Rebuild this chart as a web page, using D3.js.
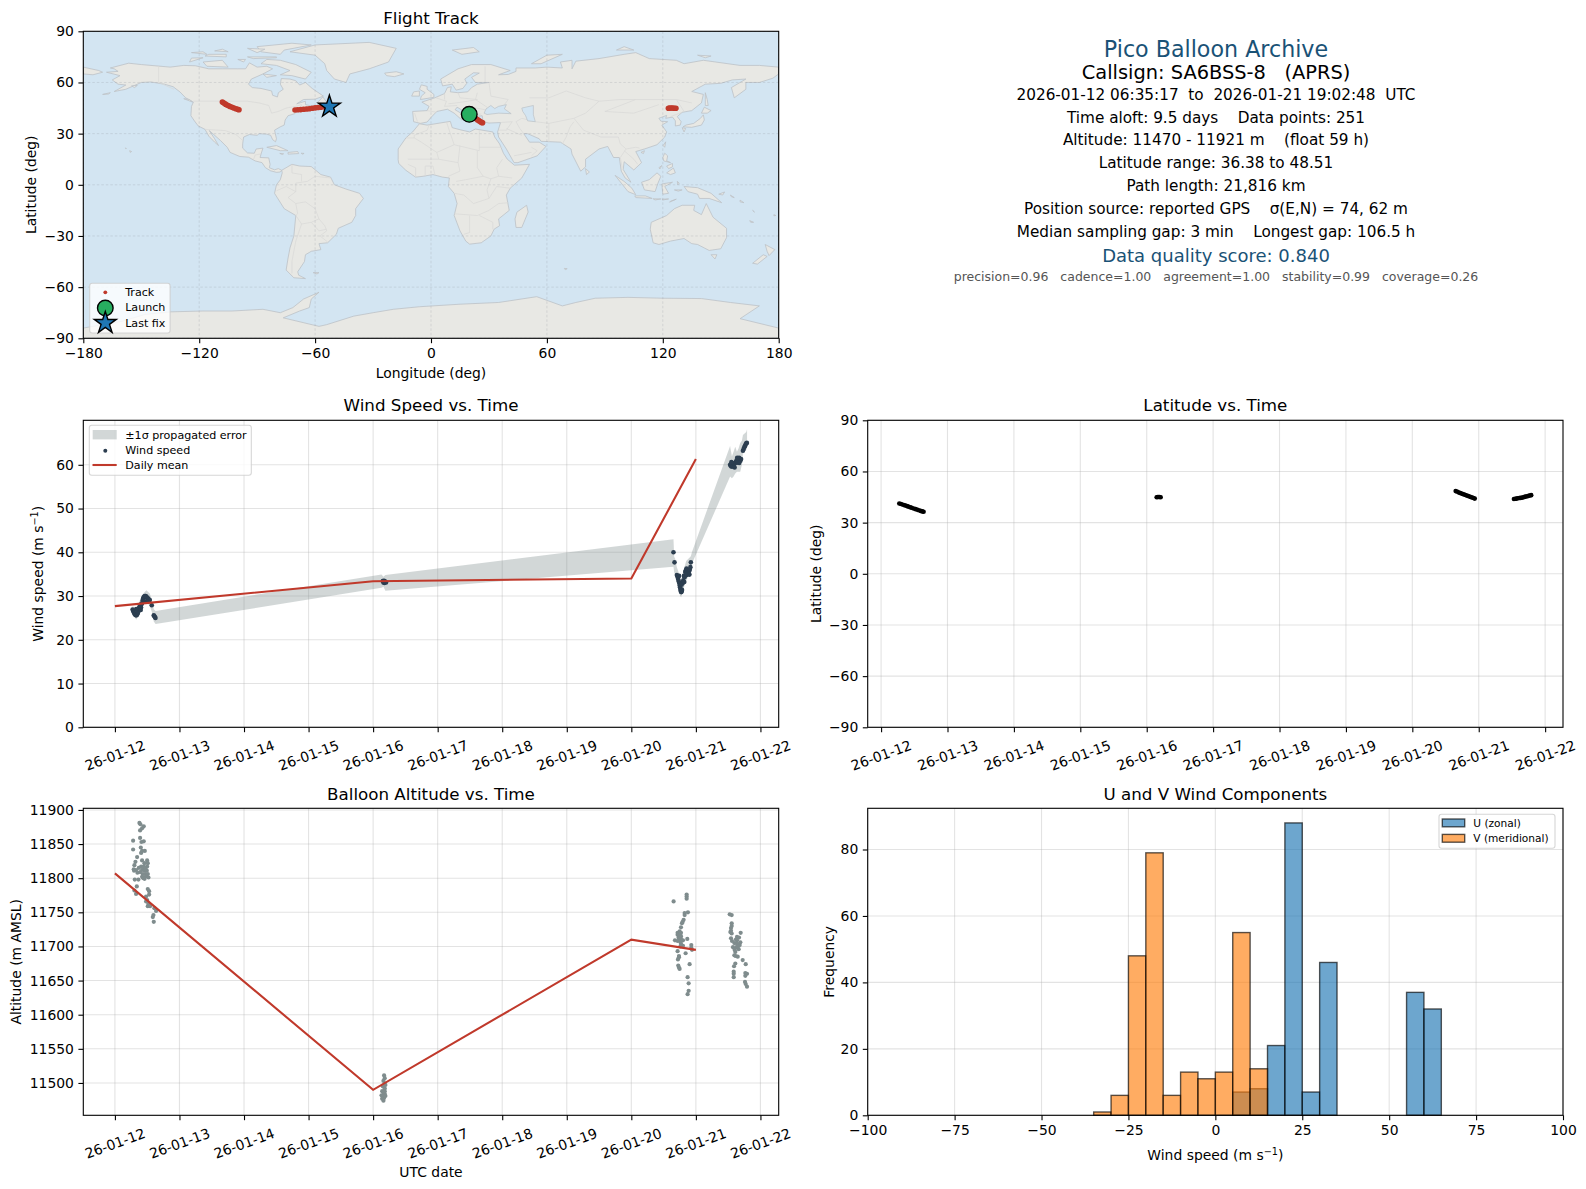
<!DOCTYPE html>
<html>
<head>
<meta charset="utf-8">
<style>
  html, body { margin: 0; padding: 0; background: #fff; }
  text { font-family: "DejaVu Sans", sans-serif; fill: #000; white-space: pre; }
</style>
<script src="https://cdn.jsdelivr.net/npm/d3@7"></script>
</head>
<body>
<div id="chart"></div>
<script>
// ---- header text
const infoLines = [
  ["Pico Balloon Archive", 50.8, 22.2, "#1a5276"],
  ["Callsign: SA6BSS-8   (APRS)", 73.4, 19.4, "#000"],
  ["2026-01-12 06:35:17  to  2026-01-21 19:02:48  UTC", 95, 15.28, "#000"],
  ["Time aloft: 9.5 days    Data points: 251", 118, 15.28, "#000"],
  ["Altitude: 11470 - 11921 m    (float 59 h)", 140.8, 15.28, "#000"],
  ["Latitude range: 36.38 to 48.51", 163.8, 15.28, "#000"],
  ["Path length: 21,816 km", 186.8, 15.28, "#000"],
  ["Position source: reported GPS    σ(E,N) = 74, 62 m", 209.8, 15.28, "#000"],
  ["Median sampling gap: 3 min    Longest gap: 106.5 h", 232.8, 15.28, "#000"],
  ["Data quality score: 0.840", 257.2, 18, "#1a5276"],
  ["precision=0.96   cadence=1.00   agreement=1.00   stability=0.99   coverage=0.26", 277.7, 12.5, "#555"]
];

// ---- time values are days after 2026-01-12 00:00 UTC
const dateTicks = d3.range(0, 11);

const windDaily = [[0, 27.7], [4, 33.4], [8, 34], [9, 61.3]];
const altDaily = [[0, 11807], [4, 11490], [8, 11710], [9, 11695]];

const windPoints = [
  [.274, 26.9], [.285, 26.5], [.295, 26.2], [.305, 25.9], [.315, 25.7], [.325, 25.6], [.335, 25.6], [.345, 25.8],
  [.355, 26.1], [.365, 26.5], [.375, 27.4], [.385, 27.2], [.395, 27.9], [.405, 27.4], [.41, 28.2], [.42, 28.3],
  [.43, 29.0], [.437, 29.4], [.445, 29.7], [.455, 29.9], [.465, 30.0], [.475, 30.0], [.485, 29.9], [.495, 29.7],
  [.505, 29.5], [.515, 29.4], [.525, 29.2], [.54, 29.1], [.571, 27.9], [.602, 25.6], [.61, 25.4], [.62, 25.2], [.628, 25.0],
  [.33, 27.0], [.40, 26.8], [.46, 28.8], [.50, 28.7],
  [4.15, 33.4], [4.16, 33.1], [4.165, 33.5], [4.175, 33.0], [4.18, 33.4], [4.19, 33.2], [4.2, 33.1],
  [8.653, 40.0], [8.669, 37.7], [8.705, 34.8], [8.715, 34.4], [8.725, 33.9], [8.735, 33.4], [8.745, 32.9], [8.75, 32.4],
  [8.755, 32.0], [8.76, 31.6], [8.765, 31.2], [8.77, 31.0], [8.775, 30.9], [8.78, 31.1], [8.785, 31.4], [8.79, 33.0],
  [8.795, 33.0], [8.805, 33.6], [8.815, 34.6], [8.825, 34.3], [8.835, 35.5], [8.845, 35.9], [8.855, 36.3], [8.865, 35.8],
  [8.875, 35.4], [8.885, 35.2], [8.895, 35.7], [8.905, 36.0], [8.915, 36.6], [8.922, 37.7],
  [8.74, 34.6], [8.78, 32.6], [8.86, 34.8], [8.9, 34.9], [8.82, 33.2],
  [9.53, 60.0], [9.54, 59.8], [9.55, 59.6], [9.56, 59.6], [9.57, 59.7], [9.58, 59.9], [9.59, 60.2], [9.6, 60.4],
  [9.61, 60.4], [9.62, 60.7], [9.63, 61.0], [9.64, 60.7], [9.65, 60.5], [9.66, 61.2], [9.67, 61.6], [9.68, 61.3],
  [9.69, 60.9], [9.7, 61.3], [9.729, 63.2], [9.74, 63.6], [9.75, 64.0], [9.76, 64.3], [9.77, 64.6], [9.78, 64.9], [9.79, 65.0],
  [9.55, 60.6], [9.6, 59.4], [9.64, 61.6], [9.67, 60.4]
];

// [day, low, high] of the propagated error band
const windBand = [
  [.274, 26.0, 27.8], [.33, 24.6, 26.8], [.385, 26.0, 29.0], [.437, 28.0, 30.5], [.488, 28.6, 31.3], [.54, 27.8, 30.6],
  [.571, 26.4, 29.2], [.602, 24.2, 27.0], [.63, 23.6, 26.6],
  [4.13, 31.9, 34.9], [4.16, 32.1, 34.4], [4.19, 31.2, 34.8],
  [8.653, 36.7, 43.0], [8.664, 35.4, 39.0], [8.679, 34.8, 38.5], [8.705, 33.0, 36.6], [8.731, 31.5, 35.5], [8.757, 30.0, 34.0],
  [8.772, 29.7, 32.8], [8.793, 31.0, 35.0], [8.85, 33.5, 38.0], [8.922, 35.8, 39.1], [8.938, 37.4, 40.0],
  [9.53, 57.3, 64.3], [9.558, 56.9, 61.9], [9.584, 57.3, 63.0], [9.61, 58.0, 64.1], [9.636, 58.4, 63.0], [9.662, 58.4, 63.8],
  [9.687, 58.4, 65.0], [9.713, 60.0, 65.5], [9.729, 62.5, 66.8], [9.78, 63.4, 67.5], [9.793, 64.0, 68.1]
];

const altPoints = [
  [.380, 11881], [.395, 11879], [.447, 11876], [.421, 11873], [.390, 11870], [.282, 11855], [.390, 11859], [.411, 11853],
  [.447, 11854], [.282, 11842], [.401, 11845], [.421, 11840], [.463, 11840], [.406, 11837], [.344, 11831], [.421, 11826],
  [.318, 11824], [.302, 11819], [.499, 11826], [.457, 11822], [.509, 11822], [.292, 11813], [.328, 11812], [.406, 11817],
  [.447, 11817], [.499, 11817], [.297, 11811], [.349, 11808], [.421, 11812], [.457, 11811], [.494, 11811], [.432, 11806],
  [.473, 11806], [.421, 11802], [.483, 11803], [.520, 11801], [.308, 11798], [.364, 11798], [.339, 11788], [.509, 11784],
  [.530, 11781], [.302, 11782], [.328, 11777], [.483, 11773], [.483, 11766], [.509, 11759], [.545, 11759], [.612, 11756],
  [.638, 11752], [.587, 11743], [.602, 11736], [.597, 11746], [.37, 11815], [.44, 11815], [.47, 11814], [.39, 11809],
  [.44, 11800], [.46, 11799], [.51, 11806], [.53, 11776], [.50, 11768], [.52, 11763],
  [4.17, 11511], [4.18, 11507], [4.16, 11503], [4.18, 11499], [4.15, 11495], [4.18, 11492], [4.14, 11488], [4.16, 11486],
  [4.18, 11484], [4.13, 11482], [4.15, 11480], [4.17, 11478], [4.14, 11477], [4.16, 11474], [4.18, 11488], [4.19, 11481], [4.19, 11497],
  [8.655, 11766], [8.857, 11776], [8.857, 11773], [8.857, 11770], [8.877, 11750], [8.826, 11749], [8.826, 11746], [8.810, 11739],
  [8.795, 11736], [8.784, 11734], [8.769, 11728], [8.748, 11722], [8.717, 11720], [8.769, 11720], [8.717, 11717], [8.769, 11715],
  [8.733, 11713], [8.769, 11711], [8.676, 11709], [8.717, 11708], [8.758, 11707], [8.800, 11709], [8.867, 11711], [8.769, 11704],
  [8.800, 11701], [8.929, 11702], [8.929, 11698], [8.717, 11693], [8.841, 11690], [8.738, 11686], [8.738, 11684], [8.722, 11681],
  [8.903, 11674], [8.727, 11672], [8.738, 11669], [8.748, 11667], [8.872, 11655], [8.888, 11646], [8.888, 11635], [8.872, 11630],
  [8.74, 11712], [8.75, 11716], [8.76, 11700], [8.94, 11695],
  [9.524, 11747], [9.555, 11746], [9.555, 11734], [9.555, 11730], [9.544, 11727], [9.544, 11723], [9.534, 11721], [9.555, 11719],
  [9.694, 11720], [9.637, 11714], [9.668, 11713], [9.544, 11712], [9.560, 11708], [9.637, 11709], [9.689, 11706], [9.596, 11705],
  [9.637, 11704], [9.575, 11699], [9.627, 11699], [9.679, 11702], [9.663, 11696], [9.611, 11692], [9.596, 11687], [9.648, 11685],
  [9.617, 11686], [9.725, 11680], [9.772, 11674], [9.611, 11675], [9.591, 11671], [9.586, 11663], [9.586, 11660], [9.586, 11655],
  [9.766, 11661], [9.792, 11660], [9.766, 11657], [9.761, 11648], [9.772, 11645], [9.792, 11641], [9.65, 11700], [9.62, 11710], [9.60, 11695]
];

const latPoints = [
  [.274, 41.2], [.30, 40.9], [.33, 40.5], [.36, 40.1], [.39, 39.7], [.41, 39.4], [.44, 39.0], [.46, 38.7], [.49, 38.3], [.52, 37.9],
  [.55, 37.5], [.58, 37.1], [.60, 36.8], [.62, 36.6], [.64, 36.4],
  [4.15, 44.9], [4.165, 45.0], [4.18, 45.0], [4.195, 45.0], [4.21, 44.9],
  [8.653, 48.5], [8.68, 48.1], [8.70, 47.7], [8.72, 47.4], [8.74, 47.1], [8.76, 46.8], [8.78, 46.5], [8.80, 46.2], [8.82, 45.9],
  [8.84, 45.6], [8.86, 45.3], [8.88, 45.0], [8.90, 44.7], [8.92, 44.4], [8.94, 44.1],
  [9.53, 43.9], [9.55, 44.0], [9.57, 44.1], [9.59, 44.3], [9.61, 44.4], [9.63, 44.5], [9.65, 44.6], [9.67, 44.9], [9.69, 45.1],
  [9.71, 45.3], [9.73, 45.5], [9.75, 45.7], [9.77, 45.9], [9.79, 46.1]
];

// ---- histogram, 5 m/s bins from -100 to 100
const histEdges = d3.range(-100, 100, 5);
const uCounts = [0,0,0,0,0,0,0,0,0,0, 0,0,0,0,0,0,0,0,0,0, 0,7,8,21,88,7,46,0,0,0, 0,37,32,0,0,0,0,0,0,0];
const vCounts = [0,0,0,0,0,0,0,0,0,0, 0,0,0,1,6,48,79,6,13,11, 13,55,14,0,0,0,0,0,0,0, 0,0,0,0,0,0,0,0,0,0];

// ---- map, [lon, lat]
const trackPoints = [
  [19.8, 41.2], [21, 40.5], [22, 39.8], [23, 39], [24, 38.2], [24.8, 37.6], [25.6, 37], [26.2, 36.6], [26.7, 36.4],
  [122.9, 44.9], [123.6, 45], [124.4, 45], [125.2, 45], [126, 44.9], [126.8, 44.9],
  [-108, 48.5], [-107.2, 47.9], [-106.4, 47.3], [-105.6, 46.8], [-104.8, 46.3], [-104, 45.9], [-103, 45.4], [-102, 45], [-101, 44.6], [-100, 44.2], [-99.4, 44],
  [-70.4, 43.9], [-69, 44], [-67.5, 44.1], [-66, 44.3], [-64.5, 44.4], [-63, 44.6], [-61.5, 44.9], [-60, 45.1], [-58.5, 45.3], [-57, 45.5], [-55.5, 45.7], [-54, 45.9]
];
const launchPoint = [19.8, 41.3];
const lastFix = [-52.6, 45.8];

const landPolygons = [
  // North America
  [[-168,66],[-162,66.5],[-164,68],[-166,68.5],[-156.5,71.3],[-150,70.5],[-141,69.6],[-135,69],[-128,70],[-122,69.8],[-115,68],[-108,68],[-100,68],[-96,68],[-94,71.5],[-90,69],[-85,69.5],[-82,68],[-87,65],[-93,62],[-94.5,59],[-92.5,57],[-88,56.5],[-82.5,55],[-82,52.5],[-79.5,51.5],[-79,54],[-76.5,56],[-78,59],[-77.5,62.3],[-73,62],[-70,61],[-68,58.5],[-65,60],[-61.5,56.5],[-57,53],[-55.7,52],[-60,50.2],[-66,50],[-69.5,47.5],[-65,49],[-65,47],[-61,46],[-66,44],[-70,43.5],[-70.5,41.7],[-74,40.5],[-75.5,38],[-76,35],[-78,34],[-81,32],[-80,27],[-80.5,25.2],[-82,26.5],[-83,29],[-85,29.7],[-89,30],[-90,29],[-94,29.5],[-97,28],[-97.5,24],[-97.5,21.5],[-95,18.7],[-91.5,18.5],[-90.5,21],[-87,21.5],[-88,18],[-88.5,16],[-84,15.8],[-83.3,12],[-83.7,10],[-81,8.8],[-79,9.5],[-77.3,8.5],[-78,7.5],[-80,7.3],[-83,8.2],[-85.7,10],[-87.5,13],[-91,14],[-94.5,16.2],[-99,16.6],[-104,19],[-105.5,22],[-109,26],[-112.5,29.5],[-114.8,31.8],[-112,27],[-110,23],[-112,25],[-115,28.5],[-117,32.5],[-120.5,34.5],[-122.5,37.5],[-124.3,40.5],[-124,46],[-123,48.5],[-127,51],[-130,54.5],[-133.5,57.5],[-138,59],[-145,60.3],[-150,60],[-152,59],[-158,56],[-164,54.7],[-158,58.5],[-162,59],[-165,61.5],[-161,64]],
  // Arctic islands
  [[-62,66],[-65,62],[-72,64],[-78,64.5],[-73,67],[-80,70],[-88,71],[-85,73.5],[-78,73],[-70,70.5]],
  [[-105,69],[-116,69.5],[-118,72],[-108,73]],
  [[-62,82],[-72,83],[-90,81],[-88,78],[-78,76.5],[-76,79]],
  [[-125,72],[-118,74.5],[-124,74.3]],
  [[-95,75],[-80,75],[-80,74.5],[-92,74]],
  [[-117,75.5],[-106,75],[-106,76.5],[-115,76.5]],
  [[-95,80],[-86,79.5],[-90,77.5]],
  [[-87,65],[-80,64],[-85,63]],
  [[-59,48],[-56,51.5],[-53,47]],
  [[-128,50.5],[-123.5,48.5],[-125,50]],
  [[-100,73.5],[-97,72],[-96,73.5]],
  [[-124,77.5],[-116,76.5],[-118,78]],
  [[-112,78.5],[-105,78],[-108,79.5]],
  // Caribbean, Pacific north
  [[-85,22],[-80,23],[-74,20],[-78,20]],
  [[-74,19],[-69,19.5],[-68.5,18.3],[-74,18]],
  [[-78.3,18.4],[-76.3,18.2],[-77,17.8]],
  [[-67.2,18.5],[-65.7,18.4],[-66.5,18]],
  [[-156,20],[-155,19.5],[-155.7,19]],
  [[-158.3,21.6],[-157.7,21.3],[-158,21.2]],
  [[-170,53],[-166,54],[-167,53.2]],
  [[-155,58],[-152,58.3],[-153.5,57]],
  // Greenland, Iceland
  [[-73,78],[-60,82],[-32,83.5],[-18,80],[-22,72],[-32,68],[-42,65],[-44,60],[-50,62],[-54,67],[-55,71],[-60,76]],
  [[-24,65.5],[-18,66.3],[-14,65],[-19,63.4],[-23,64]],
  // South America
  [[-77.3,8.5],[-72,12],[-68,11],[-62,10.7],[-57,6],[-52,4.5],[-50,0],[-44,-2.5],[-37,-5],[-35,-8],[-39,-14],[-39,-18],[-41,-22],[-48,-25.5],[-49,-29],[-53.5,-34],[-58,-34.5],[-57,-38],[-62,-39],[-65,-41],[-65.5,-45],[-69,-51],[-68.5,-53],[-65,-55],[-71,-54.5],[-75,-50],[-74,-43],[-73,-37],[-71,-30],[-70,-18],[-76,-14],[-81,-5],[-80,0],[-78,3],[-77,7]],
  [[-61,-51.5],[-58,-51.5],[-59,-52.3]],
  // Africa
  [[-17,14.7],[-17,21],[-13,27.5],[-9.5,31],[-6,35.8],[-2,35],[10,37.2],[11,33.5],[15,32.3],[20,31],[23,32.7],[32,31],[33,28],[35.5,24],[37.5,18.5],[39.5,15],[43.2,11.5],[51,12],[47,4],[41,-2],[39,-6],[40.5,-15],[35,-20],[35.5,-24],[32.7,-26],[31,-30],[26,-34],[20,-34.8],[18,-33],[15,-27],[12,-18],[13.5,-11],[12,-5],[9,-1],[9.5,4],[6,4.5],[1,6],[-4,5],[-8,4.5],[-13,8.5],[-16.7,12.5]],
  [[49.5,-12],[50.3,-16],[47,-25],[44,-25],[43.5,-20],[44.5,-16]],
  // Eurasia
  [[-9,37],[-9.5,43],[-2,43.5],[-1,46],[-4.7,48.5],[2,51],[7,53.5],[8.5,57],[10.5,57.5],[10,54.5],[14,54],[19,54.5],[21,57],[24,59],[30,60],[23,60],[21,63],[25,65.5],[22,65.7],[17.5,62],[18.5,59.5],[16.5,56.5],[13,55.5],[11,59],[6,58],[5,62],[14,68],[21,70.5],[31,70.5],[41,67],[35,64.5],[40,64.7],[44,66.5],[44,68.5],[54,68.5],[60,69],[68,68.5],[67,72],[73,73],[73,68],[75,72.5],[87,74],[100,76.5],[106,77.5],[113,74],[127,73],[131,71],[141,73],[160,70],[170,70],[180,69],[180,65],[177,62.5],[170,60],[163,60],[163,56],[157,51],[155.5,57],[163,62],[156,61.5],[150,59.5],[142,59],[135,54.7],[141,53],[140,48],[135,43.5],[130,42.5],[127.5,40],[129.5,37],[129,35],[126.5,34.5],[126.5,37.5],[125,39.7],[121.5,39],[122,40.7],[118,39],[119,37.3],[122.5,37],[119.5,35],[122,31],[121,28],[117,23.5],[110.5,21],[106,19.5],[109,13],[105,8.7],[100,13.5],[99.5,9],[103.5,1.5],[100.5,4],[98.5,8],[97.5,16],[94.5,16],[91.5,22.5],[87,21],[80,15],[80,10.5],[77.5,8],[73,18],[72.5,21],[67,25],[57,25.5],[56,27],[50,30],[48,30],[51,25],[56,25],[59.5,22.5],[55,17],[45,13],[43,13],[39,21],[35,28],[34.5,31],[36,36.5],[30,36.2],[27,37],[26.5,40.5],[23,40],[23.5,36.7],[21,38],[19.5,41.5],[13.5,45.5],[12.5,44],[18.5,40],[16,38],[12,42],[8.5,44.3],[3,43],[0,39.5],[-2,36.8],[-5.5,36]],
  [[-180,69],[-172,67],[-170,66],[-175,64.5],[-180,65]],
  // Islands of the old world
  [[-5.5,50],[1.5,51.3],[1.5,53],[-2,56],[-2,57.7],[-5,58.6],[-6,56],[-3,54],[-5,52]],
  [[-10,52],[-6,52],[-6,55],[-9,54.5]],
  [[11,79],[22,80.5],[25,78],[16,76.5]],
  [[52,71],[57,71],[68,76.5],[60,76]],
  [[96,79],[105,79],[100,81]],
  [[138,76],[145,75.5],[142,74.5]],
  [[142,54],[143,50],[143.5,46.5],[142,46.5],[142,50]],
  [[130.5,34],[135,33.7],[140,35],[141.5,38],[141,41],[139.5,39],[136,36],[132,35]],
  [[130,33.5],[131.8,33],[131,31]],
  [[140,42],[141.5,45.5],[145,43.5],[143,42]],
  [[120.2,23],[121.5,25.2],[121,22]],
  [[108.7,19],[110.5,20],[110,18.3]],
  [[120,16],[121,18.5],[122.5,17],[122,14],[124,13],[120.5,14]],
  [[122,7],[125.5,9.8],[126.5,7],[124,6]],
  [[122,11],[125,12.5],[125,10.5],[123,9.5]],
  [[118,10],[119.5,11.3],[118.5,9.3]],
  [[80,9.5],[82,7.5],[80.5,6]],
  [[95.3,5.5],[100,2],[104,-2],[106,-5.8],[102,-4],[98.5,1]],
  [[105.5,-6.5],[111,-6.5],[114.5,-8],[106,-7.5]],
  [[115,-8.2],[119,-8.3],[116,-8.9]],
  [[119.5,-8.4],[123,-8.3],[120,-8.9]],
  [[123.5,-10.2],[127,-8.4],[124,-9.6]],
  [[109,1.5],[113,3],[117,7],[119,5],[117.5,1],[116,-4],[110.5,-3]],
  [[119.5,0.5],[125,1.5],[121,-1],[123,-5],[120,-5.5]],
  [[127.5,2],[128.5,1],[127.8,0]],
  [[126,-3],[130,-3],[128,-3.7]],
  [[131,-1],[138,-1.7],[145,-5],[150.5,-10.5],[144,-8],[139,-8],[138,-5.5],[133,-4]],
  [[149,-5.5],[152,-4.2],[151,-6]],
  [[155,-6],[157,-7.5],[155.5,-7]],
  [[160,-9],[162,-10.5],[160,-10]],
  [[166.5,-15],[167.5,-16],[167,-15.5]],
  [[165,-21],[167,-22],[165.5,-22]],
  [[177.5,-17.5],[178.5,-18],[177.5,-18.2]],
  [[69,-49],[70.5,-49.2],[69.5,-49.8]],
  // Australia, New Zealand
  [[114,-22],[122,-18],[126,-14],[130,-12],[136.5,-12],[136,-15],[140,-17.5],[142.5,-11],[146,-19],[153,-25.5],[153,-31],[150,-37.5],[144,-38.5],[138,-35],[135,-34.5],[131,-31.5],[124,-33],[118,-35],[115,-34],[113.5,-26]],
  [[145,-41],[148,-41],[147,-43.5]],
  [[173,-35],[178,-38],[175,-41.5],[174,-39]],
  [[172,-41],[174,-42],[169,-46.5],[166.5,-46]],
  // Antarctica
  [[-180,-84],[-160,-80],[-148,-76],[-135,-74.5],[-118,-74],[-103,-74],[-87,-73],[-78,-75],[-71.5,-72],[-66,-67],[-58,-63],[-62,-67],[-63,-72],[-68,-74],[-76.5,-78],[-58,-83],[-54,-82],[-40,-77],[-30,-75],[-19.5,-73],[-6,-71.5],[15,-70],[35,-69],[54.7,-65.6],[68,-71],[75,-69],[85,-66.5],[102,-66],[120,-66.5],[140,-66.7],[155,-69],[170,-71],[160,-78.5],[180,-84],[180,-90],[-180,-90]]
];

const inlandSeas = [
  [[27.5,42],[29,41.2],[35,42],[41.5,41.7],[38,44.5],[39,47],[35,46],[33,44.7],[31,46.5],[28.5,44.5]],
  [[47,45],[53,46.5],[53,41],[54,37],[50,37.5],[49,40.5],[47.5,43]]
];

const borderLines = [
  [[-123,49],[-95,49],[-89,48],[-84,46.5],[-82.5,42],[-79,43],[-75,45],[-70,46],[-67,47],[-67,45]],
  [[-141,69.6],[-141,60],[-133,56]],
  [[-117,32.5],[-106.5,31.8],[-101,29.5],[-97.5,26]],
  [[-92,14.5],[-91,17.5],[-88.5,18]],
  [[-52,4],[-60,5],[-64,2],[-70,1],[-70,-4],[-74,-7.5],[-70,-11],[-65,-10],[-60,-14],[-58,-20],[-55,-24],[-54,-27],[-57.5,-30],[-53.5,-33.5]],
  [[-70,-18],[-67,-23],[-70,-33],[-72,-45],[-72,-52]],
  [[-72,12],[-72,7],[-67,6],[-67,2]],
  [[-80,-3.5],[-75,-1],[-70,-4]],
  [[-70,-11],[-69,-17],[-70,-18]],
  [[-62,-22],[-58,-27],[-54,-26]],
  [[-67,-23],[-62,-22],[-58,-20]],
  [[-13,27.5],[-8.7,27.5],[-8.7,29],[-2,32],[-1,35]],
  [[-8.7,27.5],[-5,25],[3,19],[12,23.5],[10,30],[8,37]],
  [[12,23.5],[25,20],[25,32]],
  [[25,22],[37,22]],
  [[24,20],[24,10],[27,5],[31,3.5],[35,5],[42,4]],
  [[35,5],[34,10],[37,15]],
  [[3,19],[4,15],[14,13],[15,23]],
  [[14,13],[15,8],[9,5]],
  [[-12,15],[-5,15],[4,15]],
  [[-3,5],[-3,11],[1,11],[2,6]],
  [[-8,4.5],[-8,10],[-12,12]],
  [[13,2],[18,3],[27,5]],
  [[12,-5],[17,-6],[22,-11],[30,-8],[29,-3],[31,3.5]],
  [[12,-17],[24,-18],[30,-15],[35,-11],[40,-10.5]],
  [[30,-8],[34,-1],[41,-2]],
  [[20,-18],[20,-28],[17,-29]],
  [[25,-18],[32,-22],[32,-26]],
  [[-2,43.5],[3,42.5]],
  [[-8.5,42],[-7,37]],
  [[2.5,51],[8,49],[7,46],[13.5,46.5]],
  [[7,53.5],[7,50]],
  [[14,54],[15,51],[24,50],[19,49],[13,48],[9,47.5]],
  [[24,54],[23,50],[29,45.5]],
  [[19,46],[28,44]],
  [[21,41],[26,41.5]],
  [[28,60],[28,69.5]],
  [[30,60],[31,52],[40,50],[38,47]],
  [[51,51],[61,51],[70,55],[80,51],[87,49]],
  [[87,49],[98,50],[106,50],[118,50],[127,50],[135,48]],
  [[127,50],[131,43]],
  [[87,49],[80,42],[74,39],[79,32],[88,28],[97,28],[98,24],[101,21],[106,22],[108,21.5]],
  [[74,39],[61,36],[54,37],[47,39],[44,37],[46,33],[48,30]],
  [[61,36],[61,25]],
  [[74,37],[72,34],[70,28],[68,24]],
  [[39,33],[47,29]],
  [[35,32],[39,32],[42,37],[36,36.5]],
  [[52,22],[55,20],[52,17]],
  [[43,17],[52,19]],
  [[101,21],[98,16],[99,10]],
  [[100,20],[105,15],[107,12]],
  [[106,50],[90,43],[105,42],[118,47]],
  [[124,40],[130,42.5]]
];

// ---- figure
const figWidth = 1586, figHeight = 1189;
const leftCol = { x0: 83.3, x1: 778.7 }, rightCol = { x0: 867.7, x1: 1563 };
const rows = [{ y0: 31.3, y1: 338.3 }, { y0: 420.3, y1: 727.3 }, { y0: 808.3, y1: 1115.3 }];

const RED = "#c0392b", SLATE = "#2c3e50", GREY = "#7f8c8d";

const svg = d3.select("#chart").append("svg")
    .attr("width", figWidth)
    .attr("height", figHeight)
    .style("display", "block");

const dayToDate = d => new Date(Date.UTC(2026, 0, 12) + d * 864e5);
const dateLabel = d3.utcFormat("%y-%m-%d");

function drawGrid(g, x, y, xTicks, yTicks, col, row, dashed) {
    const grid = g.append("g")
        .attr("stroke", dashed ? "#8d9499" : "#b0b0b0")
        .attr("stroke-opacity", dashed ? .3 : .35)
        .attr("stroke-width", dashed ? .8 : 1.1)
        .attr("stroke-dasharray", dashed ? "2.5,2" : null);
    xTicks.forEach(t => grid.append("line")
        .attr("x1", x(t)).attr("x2", x(t))
        .attr("y1", row.y0).attr("y2", row.y1));
    yTicks.forEach(t => grid.append("line")
        .attr("x1", col.x0).attr("x2", col.x1)
        .attr("y1", y(t)).attr("y2", y(t)));
}

function drawFrame(g, x, y, xTicks, yTicks, col, row, xFormat, yFormat, rotate) {
    const xAxis = g.append("g")
        .attr("transform", `translate(0, ${row.y1})`)
        .call(d3.axisBottom(x).tickValues(xTicks).tickFormat(xFormat).tickSize(4.9).tickPadding(4.5));
    const yAxis = g.append("g")
        .attr("transform", `translate(${col.x0}, 0)`)
        .call(d3.axisLeft(y).tickValues(yTicks).tickFormat(yFormat).tickSize(4.9).tickPadding(4.5));
    [xAxis, yAxis].forEach(a => {
        a.selectAll("text").attr("font-size", 13.9).attr("font-family", "DejaVu Sans");
        a.selectAll("line").attr("stroke", "#000").attr("stroke-width", 1.1);
        a.select(".domain").remove();
    });
    if (rotate) {
        xAxis.selectAll("text")
            .attr("y", 0).attr("dy", 0)
            .attr("text-anchor", "middle")
            .attr("dominant-baseline", "middle")
            .attr("transform", "translate(0, 29) rotate(-20)");
    }
    g.append("rect")
        .attr("x", col.x0).attr("y", row.y0)
        .attr("width", col.x1 - col.x0).attr("height", row.y1 - row.y0)
        .attr("fill", "none").attr("stroke", "#000").attr("stroke-width", 1.1);
}

// label that may end in a raised "−1" for the m s-1 unit
function unitLabel(sel, label) {
    const parts = label.split("^");
    sel.text(parts[0]);
    if (parts.length > 1) {
        sel.append("tspan").attr("dy", -5.2).attr("font-size", 9.7).text("−1");
        sel.append("tspan").attr("dy", 5.2).text(")");
    }
}

function addTitles(g, col, row, title, xLabel, yLabel, yLabelX, xLabelY, titleGap) {
    const cx = (col.x0 + col.x1) / 2;
    g.append("text").attr("x", cx).attr("y", row.y0 - titleGap)
        .attr("text-anchor", "middle").attr("font-size", 16.7).text(title);
    if (xLabel) {
        g.append("text").attr("x", cx).attr("y", xLabelY)
            .attr("text-anchor", "middle").attr("font-size", 13.9).call(unitLabel, xLabel);
    }
    g.append("text")
        .attr("transform", `translate(${yLabelX}, ${(row.y0 + row.y1) / 2}) rotate(-90)`)
        .attr("text-anchor", "middle").attr("font-size", 13.9).call(unitLabel, yLabel);
}

function legendBox(g, x0, y0, w, h) {
    g.append("rect")
        .attr("x", x0).attr("y", y0).attr("width", w).attr("height", h).attr("rx", 2.5)
        .attr("fill", "#fff").attr("fill-opacity", .8)
        .attr("stroke", "#ccc").attr("stroke-opacity", .8).attr("stroke-width", 1.1);
}

function legendText(g, x, y, label, size) {
    g.append("text").attr("x", x).attr("y", y)
        .attr("dominant-baseline", "middle")
        .attr("font-size", size).text(label);
}

// ---- flight track
function makeMap() {
    const col = leftCol, row = rows[0];
    const g = svg.append("g");
    const x = d3.scaleLinear().domain([-180, 180]).range([col.x0, col.x1]);
    const y = d3.scaleLinear().domain([-90, 90]).range([row.y1, row.y0]);
    const xTicks = [-180, -120, -60, 0, 60, 120, 180];
    const yTicks = [-90, -60, -30, 0, 30, 60, 90];

    svg.append("clipPath").attr("id", "map-clip").append("rect")
        .attr("x", col.x0).attr("y", row.y0)
        .attr("width", col.x1 - col.x0).attr("height", row.y1 - row.y0);

    const body = g.append("g").attr("clip-path", "url(#map-clip)");
    body.append("rect")
        .attr("x", col.x0).attr("y", row.y0)
        .attr("width", col.x1 - col.x0).attr("height", row.y1 - row.y0)
        .attr("fill", "#d3e5f2");

    const outline = d3.line().x(d => x(d[0])).y(d => y(d[1]));
    body.selectAll("path.land").data(landPolygons).join("path")
        .attr("class", "land")
        .attr("d", d => outline(d) + "Z")
        .attr("fill", "#e8e8e4")
        .attr("stroke", "#bcc2c6")
        .attr("stroke-width", .8)
        .attr("stroke-linejoin", "round");
    body.selectAll("path.border").data(borderLines).join("path")
        .attr("class", "border")
        .attr("d", outline)
        .attr("fill", "none")
        .attr("stroke", "#d8d9d7")
        .attr("stroke-width", .7);
    body.selectAll("path.sea").data(inlandSeas).join("path")
        .attr("class", "sea")
        .attr("d", d => outline(d) + "Z")
        .attr("fill", "#d3e5f2")
        .attr("stroke", "#bcc2c6")
        .attr("stroke-width", .7);

    drawGrid(body, x, y, xTicks, yTicks, col, row, true);

    body.selectAll("circle.track").data(trackPoints).join("circle")
        .attr("class", "track")
        .attr("cx", d => x(d[0])).attr("cy", d => y(d[1]))
        .attr("r", 2.8).attr("fill", RED);

    body.append("circle")
        .attr("cx", x(launchPoint[0])).attr("cy", y(launchPoint[1]))
        .attr("r", 7.8).attr("fill", "#27ae60")
        .attr("stroke", "#000").attr("stroke-width", 1.4);
    const star = d3.symbol().type(d3.symbolStar).size(150);
    body.append("path").attr("d", star())
        .attr("transform", `translate(${x(lastFix[0])}, ${y(lastFix[1])})`)
        .attr("fill", "#1f77b4").attr("stroke", "#000").attr("stroke-width", 1.4);

    const fmt = d3.format("d");
    drawFrame(g, x, y, xTicks, yTicks, col, row, fmt, fmt, false);
    addTitles(g, col, row, "Flight Track", "Longitude (deg)", "Latitude (deg)", 35.5, 378, 7.5);

    legendBox(g, 89.7, 283.2, 80.4, 49.8);
    g.append("circle").attr("cx", 105.3).attr("cy", 292.3).attr("r", 1.9).attr("fill", RED);
    g.append("circle").attr("cx", 105.3).attr("cy", 308)
        .attr("r", 7.8).attr("fill", "#27ae60").attr("stroke", "#000").attr("stroke-width", 1.4);
    g.append("path").attr("d", star()).attr("transform", "translate(105.3, 323)")
        .attr("fill", "#1f77b4").attr("stroke", "#000").attr("stroke-width", 1.4);
    legendText(g, 125.2, 292.5, "Track", 11.1);
    legendText(g, 125.2, 308.3, "Launch", 11.1);
    legendText(g, 125.2, 323.5, "Last fix", 11.1);
}

// ---- wind speed
function makeWind() {
    const col = leftCol, row = rows[1];
    const g = svg.append("g");
    const x = d3.scaleUtc().domain([dayToDate(-0.4897), dayToDate(10.283)]).range([col.x0, col.x1]);
    const y = d3.scaleLinear().domain([0, 70.17]).range([row.y1, row.y0]);
    const xTicks = dateTicks.map(dayToDate);
    const yTicks = [0, 10, 20, 30, 40, 50, 60];

    drawGrid(g, x, y, xTicks, yTicks, col, row, false);

    const band = d3.area()
        .x(d => x(dayToDate(d[0]))).y0(d => y(d[1])).y1(d => y(d[2]));
    g.append("path").datum(windBand).attr("d", band)
        .attr("fill", GREY).attr("fill-opacity", .35);

    g.selectAll("circle.wind").data(windPoints).join("circle")
        .attr("class", "wind")
        .attr("cx", d => x(dayToDate(d[0]))).attr("cy", d => y(d[1]))
        .attr("r", 2.3).attr("fill", SLATE);

    const mean = d3.line().x(d => x(dayToDate(d[0]))).y(d => y(d[1]));
    g.append("path").datum(windDaily).attr("d", mean)
        .attr("fill", "none").attr("stroke", RED).attr("stroke-width", 2.08);

    drawFrame(g, x, y, xTicks, yTicks, col, row, dateLabel, d3.format("d"), true);
    addTitles(g, col, row, "Wind Speed vs. Time", null, "Wind speed (m s^", 43, 0, 9);

    legendBox(g, 89.3, 425.3, 162, 50);
    g.append("rect").attr("x", 92.7).attr("y", 430).attr("width", 24).attr("height", 9.4)
        .attr("fill", GREY).attr("fill-opacity", .35);
    g.append("circle").attr("cx", 105.3).attr("cy", 450.7).attr("r", 2).attr("fill", SLATE);
    g.append("line").attr("x1", 92.5).attr("x2", 116.7).attr("y1", 465).attr("y2", 465)
        .attr("stroke", RED).attr("stroke-width", 2.08);
    legendText(g, 125.3, 435.5, "±1σ propagated error", 11.1);
    legendText(g, 125.3, 450.7, "Wind speed", 11.1);
    legendText(g, 125.3, 466.2, "Daily mean", 11.1);
}

// ---- latitude
function makeLatitude() {
    const col = rightCol, row = rows[1];
    const g = svg.append("g");
    const x = d3.scaleUtc().domain([dayToDate(-0.2017), dayToDate(10.269)]).range([col.x0, col.x1]);
    const y = d3.scaleLinear().domain([-90, 90]).range([row.y1, row.y0]);
    const xTicks = dateTicks.map(dayToDate);
    const yTicks = [-90, -60, -30, 0, 30, 60, 90];

    drawGrid(g, x, y, xTicks, yTicks, col, row, false);

    g.selectAll("circle.lat").data(latPoints).join("circle")
        .attr("class", "lat")
        .attr("cx", d => x(dayToDate(d[0]))).attr("cy", d => y(d[1]))
        .attr("r", 2.3).attr("fill", "#000");

    drawFrame(g, x, y, xTicks, yTicks, col, row, dateLabel, d3.format("d"), true);
    addTitles(g, col, row, "Latitude vs. Time", null, "Latitude (deg)", 821, 0, 9);
}

// ---- altitude
function makeAltitude() {
    const col = leftCol, row = rows[2];
    const g = svg.append("g");
    const x = d3.scaleUtc().domain([dayToDate(-0.4897), dayToDate(10.283)]).range([col.x0, col.x1]);
    const y = d3.scaleLinear().domain([11452.6, 11902.4]).range([row.y1, row.y0]);
    const xTicks = dateTicks.map(dayToDate);
    const yTicks = d3.range(11500, 11901, 50);

    drawGrid(g, x, y, xTicks, yTicks, col, row, false);

    g.selectAll("circle.alt").data(altPoints).join("circle")
        .attr("class", "alt")
        .attr("cx", d => x(dayToDate(d[0]))).attr("cy", d => y(d[1]))
        .attr("r", 2.1).attr("fill", GREY);

    const mean = d3.line().x(d => x(dayToDate(d[0]))).y(d => y(d[1]));
    g.append("path").datum(altDaily).attr("d", mean)
        .attr("fill", "none").attr("stroke", RED).attr("stroke-width", 2.08);

    drawFrame(g, x, y, xTicks, yTicks, col, row, dateLabel, d3.format("d"), true);
    addTitles(g, col, row, "Balloon Altitude vs. Time", "UTC date", "Altitude (m AMSL)", 20.5, 1177, 8.5);
}

// ---- histogram
function makeHistogram() {
    const col = rightCol, row = rows[2];
    const g = svg.append("g");
    const x = d3.scaleLinear().domain([-100, 100]).range([col.x0, col.x1]);
    const y = d3.scaleLinear().domain([0, 92.4]).range([row.y1, row.y0]);
    const xTicks = [-100, -75, -50, -25, 0, 25, 50, 75, 100];
    const yTicks = [0, 20, 40, 60, 80];

    drawGrid(g, x, y, xTicks, yTicks, col, row, false);

    [[uCounts, "#1f77b4"], [vCounts, "#ff7f0e"]].forEach(([counts, color]) => {
        g.append("g").selectAll("rect").data(counts).join("rect")
            .attr("x", (d, i) => x(histEdges[i]))
            .attr("y", d => y(d))
            .attr("width", (d, i) => x(histEdges[i] + 5) - x(histEdges[i]))
            .attr("height", d => y(0) - y(d))
            .attr("fill", color).attr("fill-opacity", .65)
            .attr("stroke", "#000").attr("stroke-opacity", .65).attr("stroke-width", 1.39);
    });

    const fmt = d3.format("d");
    drawFrame(g, x, y, xTicks, yTicks, col, row, fmt, fmt, false);
    addTitles(g, col, row, "U and V Wind Components", "Wind speed (m s^", "Frequency", 834, 1160, 8.5);

    legendBox(g, 1439, 814.3, 116, 34);
    g.append("rect").attr("x", 1442.3).attr("y", 819).attr("width", 22.4).attr("height", 7.8)
        .attr("fill", "#1f77b4").attr("fill-opacity", .65)
        .attr("stroke", "#000").attr("stroke-opacity", .65).attr("stroke-width", 1.39);
    g.append("rect").attr("x", 1442.3).attr("y", 834.4).attr("width", 22.4).attr("height", 7.8)
        .attr("fill", "#ff7f0e").attr("fill-opacity", .65)
        .attr("stroke", "#000").attr("stroke-opacity", .65).attr("stroke-width", 1.39);
    legendText(g, 1473.3, 824, "U (zonal)", 10.6);
    legendText(g, 1473.3, 839, "V (meridional)", 10.6);
}

function makeInfo() {
    svg.append("g").selectAll("text").data(infoLines).join("text")
        .attr("x", 1216)
        .attr("y", d => d[1])
        .attr("text-anchor", "middle")
        .attr("dominant-baseline", "middle")
        .attr("font-size", d => d[2])
        .style("fill", d => d[3])
        .text(d => d[0]);
}

makeMap();
makeWind();
makeLatitude();
makeAltitude();
makeHistogram();
makeInfo();
</script>
</body>
</html>
